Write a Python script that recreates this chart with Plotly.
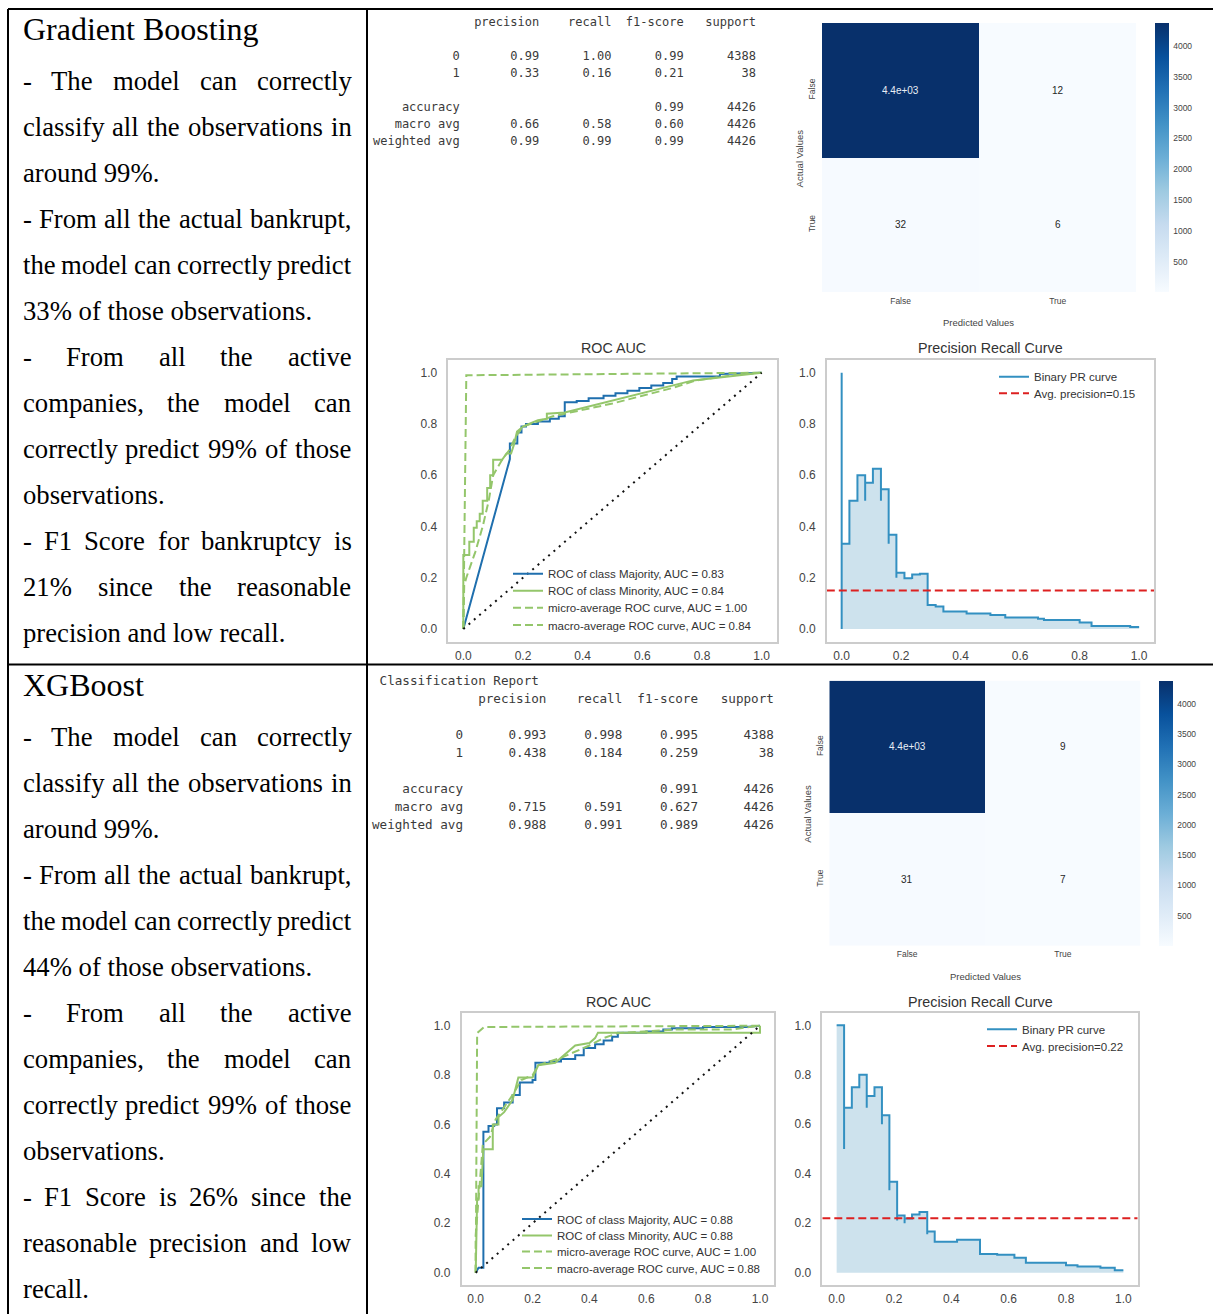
import plotly.graph_objects as go

W, H = 1213, 1314

# ---------------- classification reports ----------------
REPORT_HEADERS = ["precision", "recall", "f1-score", "support"]
REPORT_CLASSES = ["0", "1"]
REPORT_TOTAL = 4426

GB_PRECISION = [0.99, 0.33]
GB_RECALL = [1.00, 0.16]
GB_F1 = [0.99, 0.21]
GB_SUPPORT = [4388, 38]
GB_ACCURACY = 0.99
GB_MACRO = [0.66, 0.58, 0.60]
GB_WEIGHTED = [0.99, 0.99, 0.99]

XGB_PRECISION = [0.993, 0.438]
XGB_RECALL = [0.998, 0.184]
XGB_F1 = [0.995, 0.259]
XGB_SUPPORT = [4388, 38]
XGB_ACCURACY = 0.991
XGB_MACRO = [0.715, 0.591, 0.627]
XGB_WEIGHTED = [0.988, 0.991, 0.989]

# ---------------- confusion matrices ----------------
CM_LABELS = ["False", "True"]
GB_CONFUSION = [[4376, 12], [32, 6]]
XGB_CONFUSION = [[4379, 9], [31, 7]]
CBAR_TICKS = [500, 1000, 1500, 2000, 2500, 3000, 3500, 4000]

# ---------------- ROC curves ----------------
AXIS_TICKS = [0.0, 0.2, 0.4, 0.6, 0.8, 1.0]
AXIS_RANGE = [-0.05, 1.05]

GB_AUC = [0.83, 0.84, 1.00, 0.84]   # majority, minority, micro, macro
XGB_AUC = [0.88, 0.88, 1.00, 0.88]

GB_MAJ_FPR = [0, 0.156, 0.156, 0.181, 0.181, 0.195, 0.195, 0.21, 0.21, 0.25, 0.25, 0.29, 0.29,
              0.32, 0.32, 0.34, 0.34, 0.38, 0.38, 0.42, 0.42, 0.47, 0.47, 0.51, 0.51, 0.55, 0.55,
              0.59, 0.59, 0.63, 0.63, 0.67, 0.67, 0.70, 0.70, 0.715, 0.715, 0.86, 0.86, 1.0]
GB_MAJ_TPR = [0, 0.663, 0.724, 0.724, 0.767, 0.767, 0.79, 0.79, 0.80, 0.80, 0.81, 0.81, 0.82,
              0.82, 0.83, 0.83, 0.885, 0.885, 0.89, 0.89, 0.90, 0.90, 0.91, 0.91, 0.92, 0.92, 0.93,
              0.93, 0.94, 0.94, 0.95, 0.95, 0.96, 0.96, 0.975, 0.975, 0.985, 0.985, 0.995, 1.0]
GB_MIN_FPR = [0, 0.0, 0.02, 0.02, 0.035, 0.035, 0.045, 0.045, 0.055, 0.055, 0.065, 0.065, 0.08,
              0.08, 0.09, 0.09, 0.10, 0.10, 0.13, 0.145, 0.16, 0.17, 0.18, 0.20, 0.22, 0.25, 0.28,
              0.28, 0.34, 0.77, 1.0]
GB_MIN_TPR = [0, 0.289, 0.289, 0.34, 0.34, 0.395, 0.395, 0.42, 0.42, 0.45, 0.45, 0.50, 0.50,
              0.55, 0.55, 0.60, 0.60, 0.66, 0.66, 0.685, 0.685, 0.72, 0.77, 0.79, 0.80, 0.815, 0.82,
              0.84, 0.845, 0.97, 1.0]
GB_MICRO_FPR = [0, 0.01, 1.0]
GB_MICRO_TPR = [0, 0.99, 1.0]
GB_MACRO_FPR = [0, 0.003, 0.01, 0.04, 0.065, 0.085, 0.10, 0.13, 0.155, 0.175, 0.20, 0.25, 0.30,
                0.40, 0.50, 0.60, 0.70, 0.78, 0.90, 1.0]
GB_MACRO_TPR = [0, 0.17, 0.20, 0.30, 0.40, 0.50, 0.60, 0.66, 0.70, 0.75, 0.79, 0.81, 0.83,
                0.855, 0.88, 0.91, 0.94, 0.97, 0.99, 1.0]

XGB_MAJ_FPR = [0, 0.01, 0.027, 0.027, 0.045, 0.045, 0.065, 0.065, 0.075, 0.075, 0.10, 0.10, 0.13,
               0.13, 0.155, 0.155, 0.20, 0.20, 0.21, 0.21, 0.26, 0.26, 0.30, 0.30, 0.35, 0.35, 0.38,
               0.38, 0.42, 0.42, 0.45, 0.45, 0.48, 0.48, 0.50, 0.50, 0.60, 0.60, 0.66, 0.66, 0.69,
               0.69, 0.80, 0.80, 0.95, 1.0]
XGB_MAJ_TPR = [0, 0.02, 0.02, 0.571, 0.571, 0.594, 0.594, 0.60, 0.60, 0.666, 0.666, 0.689, 0.689,
               0.72, 0.72, 0.77, 0.77, 0.78, 0.78, 0.85, 0.85, 0.855, 0.855, 0.865, 0.865, 0.88, 0.88,
               0.91, 0.91, 0.925, 0.925, 0.94, 0.94, 0.955, 0.955, 0.972, 0.972, 0.977, 0.977, 0.985,
               0.985, 0.99, 0.99, 0.995, 0.995, 1.0]
XGB_MIN_FPR = [0, 0.005, 0.01, 0.01, 0.02, 0.027, 0.06, 0.06, 0.08, 0.08, 0.10, 0.13, 0.15, 0.20,
               0.22, 0.28, 0.30, 0.32, 0.35, 0.40, 0.42, 0.43, 1.0, 1.0]
XGB_MIN_TPR = [0, 0.30, 0.30, 0.35, 0.35, 0.50, 0.50, 0.60, 0.60, 0.63, 0.65, 0.70, 0.79, 0.79,
               0.84, 0.85, 0.87, 0.89, 0.92, 0.93, 0.95, 0.972, 0.972, 1.0]
XGB_MICRO_FPR = [0, 0.005, 0.03, 1.0]
XGB_MICRO_TPR = [0, 0.97, 0.995, 1.0]
XGB_MACRO_FPR = [0, 0.0, 0.01, 0.025, 0.05, 0.07, 0.10, 0.13, 0.16, 0.20, 0.22, 0.30, 0.40, 0.45,
                 0.50, 0.70, 0.90, 1.0]
XGB_MACRO_TPR = [0, 0.15, 0.30, 0.52, 0.55, 0.62, 0.67, 0.72, 0.78, 0.80, 0.84, 0.87, 0.92, 0.95,
                 0.97, 0.985, 0.985, 1.0]

# ---------------- precision-recall curves ----------------
GB_AVG_PRECISION = 0.15
XGB_AVG_PRECISION = 0.22

GB_PR_RECALL = [0, 0, 0, 0.026, 0.053, 0.079, 0.079, 0.105, 0.132, 0.132, 0.158, 0.158, 0.184,
                0.184, 0.211, 0.237, 0.237, 0.263, 0.289, 0.316, 0.342, 0.42, 0.50, 0.55, 0.66,
                0.68, 0.80, 0.84, 0.97, 1.0]
GB_PR_PRECISION = [0, 1.0, 0.333, 0.50, 0.60, 0.50, 0.571, 0.625, 0.50, 0.545, 0.333, 0.368, 0.20,
                   0.219, 0.198, 0.195, 0.213, 0.216, 0.094, 0.088, 0.068, 0.060, 0.055, 0.045,
                   0.040, 0.035, 0.025, 0.012, 0.008, 0.008]

XGB_PR_RECALL = [0, 0.026, 0.026, 0.053, 0.079, 0.105, 0.105, 0.132, 0.158, 0.158, 0.184, 0.184,
                 0.211, 0.211, 0.237, 0.237, 0.263, 0.289, 0.316, 0.316, 0.342, 0.42, 0.50, 0.56,
                 0.62, 0.66, 0.80, 0.84, 0.92, 0.97, 1.0]
XGB_PR_PRECISION = [1.0, 0.50, 0.667, 0.75, 0.80, 0.667, 0.714, 0.75, 0.60, 0.636, 0.333, 0.368,
                    0.211, 0.231, 0.20, 0.219, 0.235, 0.245, 0.155, 0.166, 0.125, 0.133, 0.075,
                    0.072, 0.060, 0.040, 0.030, 0.025, 0.020, 0.010, 0.010]

# ---------------- commentary ----------------
GB_TITLE = "Gradient Boosting"
GB_NOTES = [
    ["- The model can correctly", "classify all the observations in", "around 99%."],
    ["- From all the actual bankrupt,", "the model can correctly predict", "33% of those observations."],
    ["- From all the active", "companies, the model can", "correctly predict 99% of those", "observations."],
    ["- F1 Score for bankruptcy is", "21% since the reasonable", "precision and low recall."],
]
XGB_TITLE = "XGBoost"
XGB_NOTES = [
    ["- The model can correctly", "classify all the observations in", "around 99%."],
    ["- From all the actual bankrupt,", "the model can correctly predict", "44% of those observations."],
    ["- From all the active", "companies, the model can", "correctly predict 99% of those", "observations."],
    ["- F1 Score is 26% since the", "reasonable precision and low", "recall."],
]

# ---------------- styling ----------------
SANS = "Liberation Sans, Arial, sans-serif"
SERIF = "Liberation Serif, Times New Roman, serif"
MONO = "DejaVu Sans Mono, monospace"
ROC_BLUE = "#1f6fae"
GREEN = "#94c66b"
PR_BLUE = "#3390c1"
PR_FILL = "#cde2ed"
RED = "#dd2020"
TICK_GREY = "#444444"
BLUES = ["#f7fbff", "#deebf7", "#c6dbef", "#9ecae1", "#6baed6",
         "#4292c6", "#2171b5", "#08519c", "#08306b"]

# Times/Liberation Serif advance widths (1/1000 em) used to justify the notes
SERIF_WIDTHS = {
    " ": 250, "a": 444, "b": 500, "c": 444, "d": 500, "e": 444, "f": 333, "g": 500, "h": 500,
    "i": 278, "j": 278, "k": 500, "l": 278, "m": 778, "n": 500, "o": 500, "p": 500, "q": 500,
    "r": 333, "s": 389, "t": 278, "u": 500, "v": 500, "w": 722, "x": 500, "y": 500, "z": 444,
    "T": 611, "F": 556, "S": 556, "G": 722, "B": 667, "X": 722,
    "-": 333, ",": 250, ".": 250, "%": 833,
}


def fx(px):
    return px / W


def fy(py):
    return 1 - py / H


def serif_width(s, size):
    return sum(SERIF_WIDTHS.get(ch, 500) for ch in s) / 1000 * size


annotations = []
shapes = []
traces = []
layout_axes = {}
legends = {}


def text_ann(text, x, y, size, family=SANS, color="#333333", xanchor="center", angle=0):
    annotations.append(dict(
        text=text, x=fx(x), y=fy(y), xref="paper", yref="paper", showarrow=False,
        xanchor=xanchor, yanchor="middle", textangle=angle, borderpad=0, borderwidth=0,
        font=dict(family=family, size=size, color=color)))


# ---------------- table frame ----------------
for x0, y0, x1, y1 in [(8, 9, 1213, 9), (8, 664.5, 1213, 664.5), (8, 9, 8, 1314), (367, 9, 367, 1314)]:
    shapes.append(dict(type="line", xref="paper", yref="paper",
                       x0=fx(x0), y0=fy(y0), x1=fx(x1), y1=fy(y1),
                       line=dict(color="black", width=2)))


# ---------------- notes column ----------------
def draw_notes(title, paragraphs, top):
    left, right, size, step = 22.5, 351.5, 26.7, 46
    text_ann(title, left, top + 28.5, 32, family=SERIF, color="black", xanchor="left")
    y = top + 81
    for para in paragraphs:
        for i, line in enumerate(para):
            words = line.split(" ")
            last = i == len(para) - 1
            if last or len(words) == 1:
                text_ann(line, left, y, size, family=SERIF, color="black", xanchor="left")
            else:
                widths = [serif_width(w, size) for w in words]
                gap = (right - left - sum(widths)) / (len(words) - 1)
                x = left
                for w, wd in zip(words, widths):
                    text_ann(w, x, y, size, family=SERIF, color="black", xanchor="left")
                    x += wd + gap
            y += step


draw_notes(GB_TITLE, GB_NOTES, 0)
draw_notes(XGB_TITLE, XGB_NOTES, 656)


# ---------------- classification report text ----------------
def report_lines(prec, rec, f1, sup, acc, macro, weighted, digits):
    w = 12
    lines = [" " * w + " " + "".join(f" {h:>9}" for h in REPORT_HEADERS), ""]
    for lbl, p, r, f, s in zip(REPORT_CLASSES, prec, rec, f1, sup):
        lines.append(f"{lbl:>{w}} " + "".join(f" {v:>9.{digits}f}" for v in (p, r, f)) + f" {s:>9}")
    lines.append("")
    lines.append(f"{'accuracy':>{w}} " + f" {'':>9}" * 2 + f" {acc:>9.{digits}f}" + f" {REPORT_TOTAL:>9}")
    for name, vals in (("macro avg", macro), ("weighted avg", weighted)):
        lines.append(f"{name:>{w}} " + "".join(f" {v:>9.{digits}f}" for v in vals) + f" {REPORT_TOTAL:>9}")
    return lines


def draw_report(lines, left, first_y, step, size, heading=None):
    if heading:
        text_ann(" " + heading, left, first_y - step, size, family=MONO, color="#3a3a3a", xanchor="left")
    for k, line in enumerate(lines):
        if line.strip():
            text_ann(line.replace(" ", "\u00a0"), left, first_y + k * step, size,
                     family=MONO, color="#3a3a3a", xanchor="left")


draw_report(report_lines(GB_PRECISION, GB_RECALL, GB_F1, GB_SUPPORT, GB_ACCURACY,
                         GB_MACRO, GB_WEIGHTED, 2), 372.5, 21.5, 17.1, 12)
draw_report(report_lines(XGB_PRECISION, XGB_RECALL, XGB_F1, XGB_SUPPORT, XGB_ACCURACY,
                         XGB_MACRO, XGB_WEIGHTED, 3), 371.5, 698.3, 18.0, 12.6,
            heading="Classification Report")


# ---------------- confusion matrices ----------------
def draw_confusion(n, cm, box, cbar, actual_pos, predicted_pos):
    x0, x1, y0, y1 = box
    xa, ya = ("x", "y") if n == 1 else (f"x{n}", f"y{n}")
    flat = [v for row in cm for v in row]
    zmin, zmax = min(flat), max(flat)
    traces.append(go.Heatmap(
        z=cm, x=[0, 1], y=[0, 1], xaxis=xa, yaxis=ya, colorscale=[[i / 8, c] for i, c in enumerate(BLUES)],
        zmin=zmin, zmax=zmax, showlegend=False, hoverinfo="skip",
        colorbar=dict(x=fx(cbar[0]), xanchor="left", y=fy(y0), yanchor="top",
                      len=(y1 - y0) / H, lenmode="fraction", thickness=cbar[1] - cbar[0],
                      thicknessmode="pixels", outlinewidth=0, xpad=0, ypad=0, ticks="outside",
                      ticklen=3, tickcolor="rgba(0,0,0,0)",
                      tickvals=CBAR_TICKS, tickfont=dict(family=SANS, size=8.5, color=TICK_GREY))))
    common = dict(showgrid=False, zeroline=False, showline=False, ticks="",
                  tickfont=dict(family=SANS, size=8.5, color=TICK_GREY))
    layout_axes["xaxis" if n == 1 else f"xaxis{n}"] = dict(
        domain=[fx(x0), fx(x1)], anchor=ya, range=[-0.5, 1.5],
        tickvals=[0, 1], ticktext=CM_LABELS, ticklabelstandoff=2, **common)
    layout_axes["yaxis" if n == 1 else f"yaxis{n}"] = dict(
        domain=[fy(y1), fy(y0)], anchor=xa, range=[1.5, -0.5],
        tickvals=[0, 1], ticktext=CM_LABELS, tickangle=-90, ticklabelstandoff=4, **common)
    mid = (zmin + zmax) / 2
    for i, row in enumerate(cm):
        for j, v in enumerate(row):
            annotations.append(dict(
                text=f"{v:.2g}", x=j, y=i, xref=xa, yref=ya, showarrow=False,
                font=dict(family=SANS, size=10, color="#e8eef5" if v > mid else "#262626")))
    text_ann("Actual Values", actual_pos[0], actual_pos[1], 9.5, color=TICK_GREY, angle=-90)
    text_ann("Predicted Values", predicted_pos[0], predicted_pos[1], 9.5, color=TICK_GREY)


draw_confusion(1, GB_CONFUSION, (822, 1136.3, 23, 292), (1154.7, 1168.7),
               (799.7, 158.7), (978.7, 322.3))
draw_confusion(4, XGB_CONFUSION, (829.3, 1140.7, 680.7, 945.7), (1159.3, 1173.3),
               (806.7, 814), (985, 976))

# ---------------- line-chart axes ----------------
legend_count = [0]


def legend_at(text_x, y):
    legend_count[0] += 1
    lid = "legend" if legend_count[0] == 1 else f"legend{legend_count[0]}"
    legends[lid] = dict(x=fx(text_x - 42), xanchor="left", y=fy(y), yanchor="middle",
                        bgcolor="rgba(0,0,0,0)", borderwidth=0, itemwidth=30,
                        font=dict(family=SANS, size=11.5, color="#333333"))
    return lid


def line_axes(n, box):
    x0, x1, y0, y1 = box
    common = dict(range=AXIS_RANGE, showgrid=False, zeroline=False, showline=True, mirror=True,
                  linecolor="#cccccc", linewidth=1.5, ticks="", tickvals=AXIS_TICKS,
                  tickformat=".1f", tickfont=dict(family=SANS, size=12, color=TICK_GREY))
    layout_axes[f"xaxis{n}"] = dict(domain=[fx(x0), fx(x1)], anchor=f"y{n}",
                                    ticklabelstandoff=2, **common)
    layout_axes[f"yaxis{n}"] = dict(domain=[fy(y1), fy(y0)], anchor=f"x{n}",
                                    ticklabelstandoff=7, **common)


def draw_roc(n, box, title_pos, legend_x, legend_rows, auc, curves):
    line_axes(n, box)
    text_ann("ROC AUC", title_pos[0], title_pos[1], 14.3, color="#333333")
    names = [f"ROC of class Majority, AUC = {auc[0]:.2f}",
             f"ROC of class Minority, AUC = {auc[1]:.2f}",
             f"micro-average ROC curve, AUC = {auc[2]:.2f}",
             f"macro-average ROC curve, AUC = {auc[3]:.2f}"]
    styles = [dict(color=ROC_BLUE, width=2), dict(color=GREEN, width=2),
              dict(color=GREEN, width=2, dash="8px,4px"), dict(color=GREEN, width=2, dash="8px,4px")]
    for (fpr, tpr), name, st, row_y in zip(curves, names, styles, legend_rows):
        traces.append(go.Scatter(x=fpr, y=tpr, mode="lines", name=name, line=st,
                                 xaxis=f"x{n}", yaxis=f"y{n}", legend=legend_at(legend_x, row_y),
                                 hoverinfo="skip"))
    traces.append(go.Scatter(x=[0, 1], y=[0, 1], mode="lines", showlegend=False, hoverinfo="skip",
                             line=dict(color="#111111", width=2, dash="2px,5px"),
                             xaxis=f"x{n}", yaxis=f"y{n}"))


def draw_pr(n, box, title_pos, legend_x, legend_rows, recall, precision, ap):
    line_axes(n, box)
    text_ann("Precision Recall Curve", title_pos[0], title_pos[1], 14.3, color="#333333")
    traces.append(go.Scatter(x=recall, y=precision, mode="lines", line_shape="hv", fill="tozeroy",
                             fillcolor=PR_FILL, line=dict(width=0, color=PR_FILL), showlegend=False,
                             hoverinfo="skip", xaxis=f"x{n}", yaxis=f"y{n}"))
    traces.append(go.Scatter(x=recall, y=precision, mode="lines", line_shape="hv",
                             line=dict(color=PR_BLUE, width=2), name="Binary PR curve",
                             legend=legend_at(legend_x, legend_rows[0]), hoverinfo="skip",
                             xaxis=f"x{n}", yaxis=f"y{n}"))
    traces.append(go.Scatter(x=AXIS_RANGE, y=[ap, ap], mode="lines",
                             line=dict(color=RED, width=2, dash="8px,4px"),
                             name=f"Avg. precision={ap:.2f}",
                             legend=legend_at(legend_x, legend_rows[1]), hoverinfo="skip",
                             xaxis=f"x{n}", yaxis=f"y{n}"))


draw_roc(2, (448.4, 776.6, 359.9, 641.8), (613, 347.5), 550, [573.7, 590.7, 607.7, 625],
         GB_AUC, [(GB_MAJ_FPR, GB_MAJ_TPR), (GB_MIN_FPR, GB_MIN_TPR),
                  (GB_MICRO_FPR, GB_MICRO_TPR), (GB_MACRO_FPR, GB_MACRO_TPR)])
draw_pr(3, (826.8, 1154, 359.9, 641.8), (990, 347.5), 1036, [376.7, 393.3],
        GB_PR_RECALL, GB_PR_PRECISION, GB_AVG_PRECISION)
draw_roc(5, (461.5, 774.2, 1013.4, 1285), (618, 1001.7), 559, [1219, 1235.5, 1251.5, 1268],
         XGB_AUC, [(XGB_MAJ_FPR, XGB_MAJ_TPR), (XGB_MIN_FPR, XGB_MIN_TPR),
                   (XGB_MICRO_FPR, XGB_MICRO_TPR), (XGB_MACRO_FPR, XGB_MACRO_TPR)])
draw_pr(6, (822.3, 1137.7, 1013, 1285), (980, 1002), 1024, [1029.3, 1046],
        XGB_PR_RECALL, XGB_PR_PRECISION, XGB_AVG_PRECISION)

fig = go.Figure(data=traces)
fig.update_layout(
    width=W, height=H, autosize=False,
    margin=dict(l=0, r=0, t=0, b=0),
    paper_bgcolor="white", plot_bgcolor="white",
    font=dict(family=SANS, color="#333333"),
    annotations=annotations, shapes=shapes,
    **layout_axes, **legends,
)
fig.write_html("out.html")
